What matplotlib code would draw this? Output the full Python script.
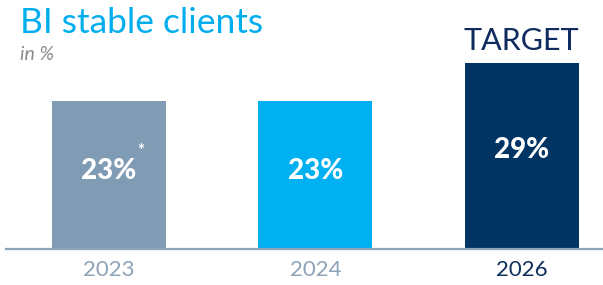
import matplotlib
matplotlib.use("Agg")
import matplotlib.pyplot as plt

years = ["2023", "2024", "2026"]
values = [23, 23, 29]
value_labels = ["23%", "23%", "29%"]
bar_colors = ["#809cb4", "#00b0f0", "#003462"]
year_colors = ["#8ea2b8", "#8ea2b8", "#0f2f5c"]

W, H = 603, 285
fig = plt.figure(figsize=(W / 100, H / 100), dpi=100)
fig.patch.set_facecolor("white")

font = "Lato"

# axes placement in pixel terms
ax_left, ax_right = 6, 603
ax_bottom_px, ax_top_px = 249, 63
ax = fig.add_axes([ax_left / W, (H - ax_bottom_px) / H,
                   (ax_right - ax_left) / W, (ax_bottom_px - ax_top_px) / H])
ax.set_facecolor("none")

x = list(range(len(years)))
bars = ax.bar(x, values, width=0.553, color=bar_colors, zorder=2)
ax.set_xlim(-0.5, 2.395)
ax.set_ylim(0, 29)

for xi, v, lab in zip(x, values, value_labels):
    ax.text(xi, v * 0.53, lab, ha="center", va="center", color="white",
            fontsize=20, fontweight=900, family=font, zorder=3)

# asterisk on first bar
ax.text(x[0] + 0.135, values[0] * 0.665, "*", ha="left", va="center",
        color="white", fontsize=12, fontweight="bold", family=font, zorder=3)

for s in ["top", "right", "left"]:
    ax.spines[s].set_visible(False)
ax.spines["bottom"].set_color("#8ea2b8")
ax.spines["bottom"].set_linewidth(1.6)
ax.set_yticks([])
ax.set_xticks(x)
ax.set_xticklabels(years, fontsize=16, family=font)
for t, c in zip(ax.get_xticklabels(), year_colors):
    t.set_color(c)
ax.tick_params(axis="x", length=0, pad=8)

# titles
fig.text(20 / W, 1 - 33 / H, "BI stable clients", ha="left", va="baseline",
         color="#00aeef", fontsize=25.5, family=font)
fig.text(20 / W, 1 - 60 / H, "in %", ha="left", va="baseline",
         color="#8a8a8a", fontsize=14, style="italic", family=font)
fig.text(521 / W, 1 - 50 / H, "TARGET", ha="center", va="baseline",
         color="#0f2a5e", fontsize=22, family=font)

fig.savefig("out.png", dpi=100, facecolor="white")
